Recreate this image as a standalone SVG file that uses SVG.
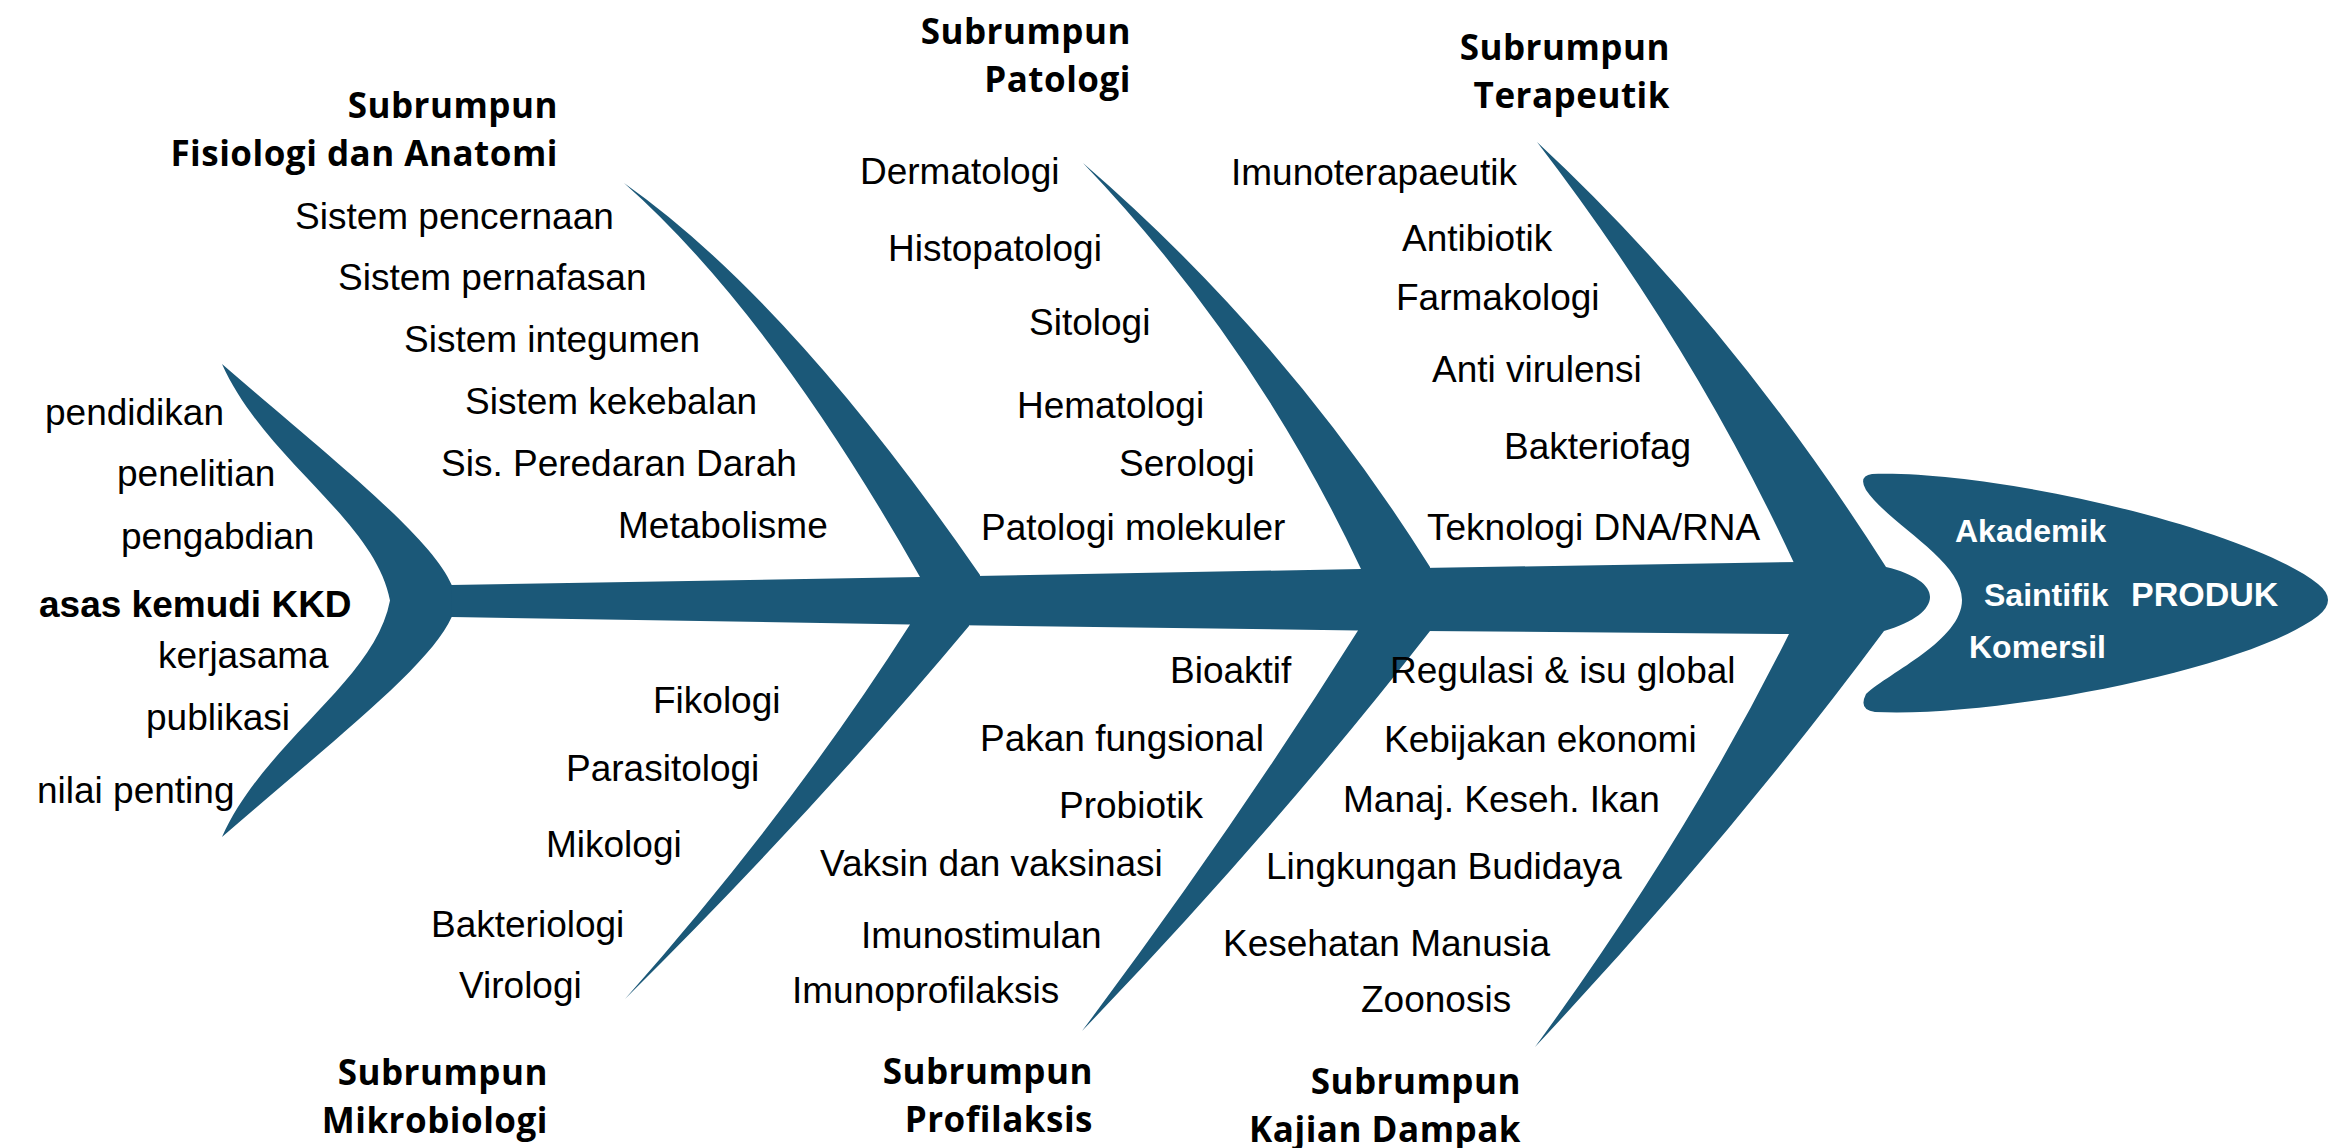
<svg xmlns="http://www.w3.org/2000/svg" width="2346" height="1148" viewBox="0 0 2346 1148">
<style>
.bone{fill:#1b5878;stroke:none}
.lbl{font-family:"Liberation Sans",Arial,sans-serif;font-size:37px;fill:#000}
.key{font-family:"Liberation Sans",Arial,sans-serif;font-size:37px;font-weight:700;fill:#000}
.hd{font-family:"Open Sans","Noto Sans",sans-serif;font-size:35px;font-weight:700;letter-spacing:0.5px;fill:#000;text-anchor:end}
.pw{font-family:"Liberation Sans",Arial,sans-serif;font-size:32px;font-weight:700;fill:#fff}
.pr{font-family:"Liberation Sans",Arial,sans-serif;font-size:34px;font-weight:700;fill:#fff}
</style>
<rect width="2346" height="1148" fill="#fff"/>
<g id="connectors">
  <path class="bone" d="M222,364 C330,458 430,535 451.7,585 L470,585 L470,617 L451.7,617 C430,666 330,743 222,837 C265,741 375,681 390,600.5 C375,520 265,460 222,364 Z"/>
  <path class="bone" d="M451,585 L920,577 L1361,569 L1800,562 L1886,567 C1915,574 1930,585 1930,597 C1930,609 1915,622 1884,631 L1790,634 L1358,630.5 L910,624.5 L452,617 Z"/>
  <path class="bone" d="M920,577 Q770,312 624,183 Q790,300 980,575 L980,600 L920,600 Z"/>
  <path class="bone" d="M1361,569 Q1255,343 1083,163 Q1287,339 1430,567 L1430,600 L1361,600 Z"/>
  <path class="bone" d="M1794,563 Q1694.5,347.7 1537,142 Q1728.75,319.9 1886,567 L1886,600 L1794,600 Z"/>
  <path class="bone" d="M910,600 L910,624.5 Q790.5,812 625,999 Q813,812.5 969,626 L969,600 Z"/>
  <path class="bone" d="M1358,600 L1358,630.5 Q1232,831 1082,1031 Q1274,831 1430,631 L1430,600 Z"/>
  <path class="bone" d="M1789,600 L1789,634 Q1686,840.5 1535,1047 Q1729.5,839 1884,631 L1884,600 Z"/>
</g>
<g id="node-asas">
  <text class="lbl" x="45" y="425">pendidikan</text>
  <text class="lbl" x="117" y="486">penelitian</text>
  <text class="lbl" x="121" y="549">pengabdian</text>
  <text class="key" x="39" y="617">asas kemudi KKD</text>
  <text class="lbl" x="158" y="668">kerjasama</text>
  <text class="lbl" x="146" y="730">publikasi</text>
  <text class="lbl" x="37" y="803">nilai penting</text>
</g>
<g id="node-fisiologi">
  <text class="hd"><tspan x="558" y="117.5">Subrumpun</tspan><tspan x="558" y="165.5">Fisiologi dan Anatomi</tspan></text>
  <text class="lbl" x="295" y="229">Sistem pencernaan</text>
  <text class="lbl" x="338" y="290">Sistem pernafasan</text>
  <text class="lbl" x="404" y="352">Sistem integumen</text>
  <text class="lbl" x="465" y="414">Sistem kekebalan</text>
  <text class="lbl" x="441" y="476">Sis. Peredaran Darah</text>
  <text class="lbl" x="618" y="538">Metabolisme</text>
</g>
<g id="node-patologi">
  <text class="hd"><tspan x="1131" y="43.5">Subrumpun</tspan><tspan x="1131" y="91.5">Patologi</tspan></text>
  <text class="lbl" x="860" y="184">Dermatologi</text>
  <text class="lbl" x="888" y="261">Histopatologi</text>
  <text class="lbl" x="1029" y="335">Sitologi</text>
  <text class="lbl" x="1017" y="418">Hematologi</text>
  <text class="lbl" x="1119" y="476">Serologi</text>
  <text class="lbl" x="981" y="540">Patologi molekuler</text>
</g>
<g id="node-terapeutik">
  <text class="hd"><tspan x="1670" y="60">Subrumpun</tspan><tspan x="1670" y="108">Terapeutik</tspan></text>
  <text class="lbl" x="1231" y="185">Imunoterapaeutik</text>
  <text class="lbl" x="1402" y="251">Antibiotik</text>
  <text class="lbl" x="1396" y="310">Farmakologi</text>
  <text class="lbl" x="1432" y="382">Anti virulensi</text>
  <text class="lbl" x="1504" y="459">Bakteriofag</text>
  <text class="lbl" x="1427" y="540">Teknologi DNA/RNA</text>
</g>
<g id="node-mikrobiologi">
  <text class="lbl" x="653" y="713">Fikologi</text>
  <text class="lbl" x="566" y="781">Parasitologi</text>
  <text class="lbl" x="546" y="857">Mikologi</text>
  <text class="lbl" x="431" y="937">Bakteriologi</text>
  <text class="lbl" x="459" y="998">Virologi</text>
  <text class="hd"><tspan x="548" y="1084.5">Subrumpun</tspan><tspan x="548" y="1132.5">Mikrobiologi</tspan></text>
</g>
<g id="node-profilaksis">
  <text class="lbl" x="1170" y="683">Bioaktif</text>
  <text class="lbl" x="980" y="751">Pakan fungsional</text>
  <text class="lbl" x="1059" y="818">Probiotik</text>
  <text class="lbl" x="820" y="876">Vaksin dan vaksinasi</text>
  <text class="lbl" x="861" y="948">Imunostimulan</text>
  <text class="lbl" x="792" y="1003">Imunoprofilaksis</text>
  <text class="hd"><tspan x="1093" y="1083.5">Subrumpun</tspan><tspan x="1093" y="1131.5">Profilaksis</tspan></text>
</g>
<g id="node-kajian">
  <text class="lbl" x="1390" y="683">Regulasi &amp; isu global</text>
  <text class="lbl" x="1384" y="752">Kebijakan ekonomi</text>
  <text class="lbl" x="1343" y="812">Manaj. Keseh. Ikan</text>
  <text class="lbl" x="1266" y="879">Lingkungan Budidaya</text>
  <text class="lbl" x="1223" y="956">Kesehatan Manusia</text>
  <text class="lbl" x="1361" y="1012">Zoonosis</text>
  <text class="hd"><tspan x="1521" y="1094">Subrumpun</tspan><tspan x="1521" y="1142">Kajian Dampak</tspan></text>
</g>
<g id="node-produk">
  <path class="bone" d="M1872,474 C2000,470 2250,530 2318,584 Q2338,600 2318,616 C2250,668 2000,718 1875,712 Q1858,710 1866,694 C1890,672 1962,640 1962,600 C1962,560 1890,525 1866,490 Q1858,476 1872,474 Z"/>
  <text class="pw" x="1955" y="542">Akademik</text>
  <text class="pw" x="1984" y="606">Saintifik</text>
  <text class="pr" x="2131" y="606">PRODUK</text>
  <text class="pw" x="1969" y="658">Komersil</text>
</g>
</svg>
